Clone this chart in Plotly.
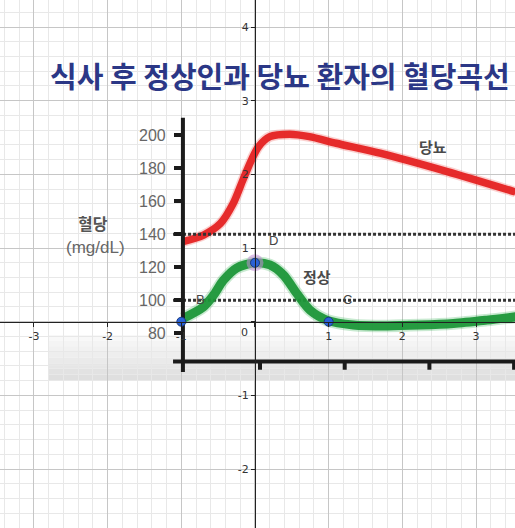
import plotly.graph_objects as go

W, H = 515, 528

# ---- background coordinate system (GeoGebra-style view) ----
GG_X_RANGE = [-3.461, 3.529]
GG_Y_RANGE = [-2.800, 4.367]
GG_X_TICKS = [-3, -2, -1, 0, 1, 2, 3]
GG_X_TICKTEXT = ["-3", "-2", "-1", "", "1", "2", "3"]
GG_Y_TICKS = [-2, -1, 0, 1, 2, 3, 4]
GG_Y_TICKTEXT = ["-2", "-1", "", "1", "2", "3", "4"]
GG_POINTS_X = [-1, 0, 1]
GG_POINTS_Y = [0, 0.8, 0]
GG_POINT_LABELS = ["B", "D", "C"]

# ---- embedded chart: time (min) vs blood glucose (mg/dL) ----
TIME_RANGE = [-62.09, 120.32]
GLUCOSE_RANGE = [-37.75, 281.67]
GLUCOSE_TICKS = [80, 100, 120, 140, 160, 180, 200]
TIME_TICKS = [30, 60, 90, 120]
REF_LEVELS = [140, 100]

DIAB_T = [2.7, 10, 16, 20.5, 24, 27, 29.5, 33.5, 40.5, 47.5, 57, 72.5, 96, 120.5]
DIAB_V = [135.5, 139.5, 146.5, 158.5, 173, 185, 193, 199, 200.5, 199, 195, 189, 178, 165.5]

NORM_T = [2.7, 9.9, 13.5, 17, 21.7, 28.2, 33.5, 38.3, 43, 47.7, 54.2, 63, 75, 86.7, 98.5, 110.3, 120.5]
NORM_V = [89, 96, 103, 112, 119.5, 122.7, 121.4, 115.3, 104.2, 94.1, 87.7, 85.1, 84.5, 85, 86, 88, 90]

AXIS_T = 2.7        # where the embedded glucose axis stands
AXIS_V = 63         # where the embedded time axis stands
AXIS_TOP = 210.5
AXIS_BOTTOM = 56.6
AXIS_LEFT = -0.8
TICK_DROP = 5

TITLE = "식사 후 정상인과 당뇨 환자의 혈당곡선"


def px_x(p):
    return p / W


def px_y(p):
    return 1 - p / H


def frac(v, rng):
    return (v - rng[0]) / (rng[1] - rng[0])


fig = go.Figure()

# embedded chart traces (x2 / y2)
fig.add_trace(go.Scatter(x=DIAB_T, y=DIAB_V, xaxis="x2", yaxis="y2", mode="lines",
                         line=dict(color="rgba(235,45,40,0.22)", width=10.5, shape="spline", smoothing=0.8),
                         hoverinfo="skip", showlegend=False))
fig.add_trace(go.Scatter(x=DIAB_T, y=DIAB_V, xaxis="x2", yaxis="y2", mode="lines",
                         line=dict(color="rgba(228,30,30,0.93)", width=7.5, shape="spline", smoothing=0.8),
                         hoverinfo="skip", showlegend=False))

for lvl in REF_LEVELS:
    fig.add_trace(go.Scatter(x=[AXIS_LEFT, TIME_RANGE[1]], y=[lvl, lvl], xaxis="x2", yaxis="y2",
                             mode="lines", line=dict(color="#333333", width=3, dash="3px,2px"),
                             hoverinfo="skip", showlegend=False))

fig.add_trace(go.Scatter(x=NORM_T, y=NORM_V, xaxis="x2", yaxis="y2", mode="lines",
                         line=dict(color="rgba(40,170,70,0.25)", width=12.5, shape="spline", smoothing=0.8),
                         hoverinfo="skip", showlegend=False))
fig.add_trace(go.Scatter(x=NORM_T, y=NORM_V, xaxis="x2", yaxis="y2", mode="lines",
                         line=dict(color="rgba(28,150,55,0.94)", width=9, shape="spline", smoothing=0.8),
                         hoverinfo="skip", showlegend=False))

# embedded axes
ax_x = [AXIS_T, AXIS_T, None, AXIS_LEFT, TIME_RANGE[1] + 5, None]
ax_y = [AXIS_BOTTOM, AXIS_TOP, None, AXIS_V, AXIS_V, None]
for t in TIME_TICKS:
    ax_x += [t, t, None]
    ax_y += [AXIS_V, AXIS_V - TICK_DROP, None]
fig.add_trace(go.Scatter(x=ax_x, y=ax_y, xaxis="x2", yaxis="y2", mode="lines",
                         line=dict(color="#1b1b1b", width=4), hoverinfo="skip", showlegend=False))

# GeoGebra points (x3 / y3, on top)
fig.add_trace(go.Scatter(x=[GG_POINTS_X[1]], y=[GG_POINTS_Y[1]], xaxis="x3", yaxis="y3", mode="markers",
                         marker=dict(size=17, color="rgba(195,140,215,0.55)", line=dict(width=0)),
                         hoverinfo="skip", showlegend=False))
fig.add_trace(go.Scatter(x=GG_POINTS_X, y=GG_POINTS_Y, xaxis="x3", yaxis="y3", mode="markers",
                         marker=dict(size=9, color="#2a62d6", line=dict(width=1, color="#1a3a80")),
                         hoverinfo="skip", showlegend=False))

# gray fading band at bottom of embedded image
band_top, band_bot = 335, 380
grays = ["#f8f8f8", "#f4f4f4", "#f1f1f1", "#eeeeee", "#eaeaea", "#e6e6e6", "#e2e2e2", "#dfdfdf"]
n = len(grays)
shapes = []
for i, g in enumerate(grays):
    y0 = band_top + (band_bot - band_top) * i / n
    y1 = band_top + (band_bot - band_top) * (i + 1) / n
    shapes.append(dict(type="rect", xref="paper", yref="paper", layer="below",
                       x0=px_x(48), x1=1, y0=px_y(y1), y1=px_y(y0),
                       fillcolor=g, line=dict(width=0)))


def note(text, x, y, family, size, color, **kw):
    d = dict(text=text, x=x, y=y, showarrow=False, xanchor="center", yanchor="middle",
             font=dict(family=family, size=size, color=color))
    d.setdefault("xref", "paper")
    d.setdefault("yref", "paper")
    d.update(kw)
    return d


annotations = [
    note("<b>" + TITLE + "</b>", px_x(280), px_y(75), "Noto Sans CJK KR", 29, "#2b3786"),
    note("<b>혈당</b>", px_x(93), px_y(223), "Noto Sans CJK KR", 16, "#555555"),
    note("(mg/dL)", px_x(95), px_y(247), "Liberation Sans", 17, "#666666"),
    note("<b>당뇨</b>", px_x(433), px_y(146), "Noto Sans CJK KR", 15, "#4a4a4a"),
    note("<b>정상</b>", px_x(317), px_y(276), "Noto Sans CJK KR", 15, "#4a4a4a"),
    note("0", 0, 0, "DejaVu Sans", 11, "#333333", xref="x", yref="y", xshift=-10, yshift=-11),
]
for gx, gy, lab in zip(GG_POINTS_X, GG_POINTS_Y, GG_POINT_LABELS):
    annotations.append(note(lab, gx, gy, "Liberation Sans", 13, "#444444",
                            xref="x3", yref="y3", xshift=19, yshift=22))

grid_common = dict(showgrid=True, gridcolor="#c6c6c6", gridwidth=1, zeroline=False,
                   showline=True, linecolor="#222222", linewidth=1.3,
                   ticks="outside", ticklen=4, tickcolor="#222222", tickwidth=1,
                   tickfont=dict(family="DejaVu Sans", size=11, color="#333333"),
                   automargin=False, fixedrange=True,
                   minor=dict(tickmode="linear", tick0=0, dtick=0.2, showgrid=True,
                              gridcolor="#e8e8e8", gridwidth=1, ticks=""))

fig.update_layout(
    width=W, height=H, template="none",
    margin=dict(l=0, r=0, t=0, b=0, pad=0),
    paper_bgcolor="white", plot_bgcolor="white",
    showlegend=False,
    xaxis=dict(range=GG_X_RANGE, tickmode="array", tickvals=GG_X_TICKS, ticktext=GG_X_TICKTEXT,
               anchor="free", position=frac(0, GG_Y_RANGE), **grid_common),
    yaxis=dict(range=GG_Y_RANGE, tickmode="array", tickvals=GG_Y_TICKS, ticktext=GG_Y_TICKTEXT,
               anchor="free", position=frac(0, GG_X_RANGE), **grid_common),
    xaxis2=dict(range=TIME_RANGE, overlaying="x", anchor="y2", visible=False, fixedrange=True),
    yaxis2=dict(range=GLUCOSE_RANGE, overlaying="y", anchor="free", side="left",
                position=frac(AXIS_T, TIME_RANGE), showgrid=False, zeroline=False, showline=False,
                tickmode="array", tickvals=GLUCOSE_TICKS, ticks="outside", ticklen=9, tickwidth=3.5,
                tickcolor="#1b1b1b", ticklabelstandoff=5,
                tickfont=dict(family="Liberation Sans", size=16, color="#666666"),
                automargin=False, fixedrange=True),
    xaxis3=dict(range=GG_X_RANGE, overlaying="x", anchor="y3", visible=False, fixedrange=True),
    yaxis3=dict(range=GG_Y_RANGE, overlaying="y", anchor="x3", visible=False, fixedrange=True),
    shapes=shapes,
    annotations=annotations,
)

fig.write_html("out.html", config={"displayModeBar": False})
